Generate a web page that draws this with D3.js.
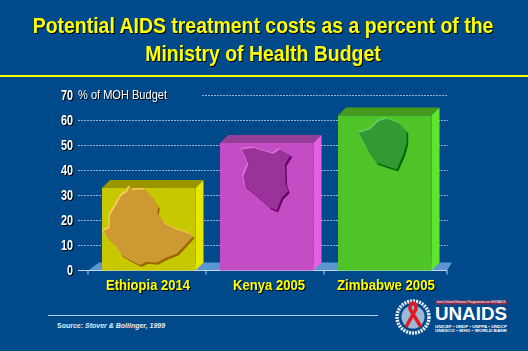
<!DOCTYPE html>
<html>
<head>
<meta charset="utf-8">
<script src="https://cdn.jsdelivr.net/npm/d3@7/dist/d3.min.js"></script>
<style>
  html, body { margin: 0; padding: 0; background: #004a8c; }
  svg { display: block; font-family: "Liberation Sans", Arial, sans-serif; }
  .shadow { filter: drop-shadow(1px 1px 0 #000); }
  .title { filter: drop-shadow(1.5px 1.5px 0 #000); }
  .axis path { display: none; }
  .axis line { display: none; }
</style>
</head>
<body>
<div id="chart"></div>
<script>
var categories = ["Ethiopia 2014", "Kenya 2005", "Zimbabwe 2005"];
var values = [33, 51, 62];
var yTicks = [0, 10, 20, 30, 40, 50, 60, 70];
var titleLines = ["Potential AIDS treatment costs as a percent of the", "Ministry of Health Budget"];

var frontColors = ["#c8c800", "#c44cc4", "#4ec428"];
var topColors = ["#9a9600", "#953e95", "#459a1c"];
var sideColors = ["#e6e600", "#e660e6", "#5ee62c"];
var mapColors = ["#cc9933", "#993399", "#339933"];
var mapLights = ["#ffcc66", "#dd77dd", "#66cc66"];
var mapDarks = ["#996600", "#660066", "#006600"];

var labelWidths = [84, 72, 98];
var labelShifts = [-0.75, 2.25, 1.25];

// country outlines, px from the top left corner of each bar front
var ethiopia = [[27.3,-1.3],[31.3,2],[43,1.3],[49.7,8.7],[56.3,18.7],[55.3,25.3],[62,35.3],[71.3,40.3],[86.3,45.3],[91.3,48],[84.7,55.3],[75.3,65.3],[63,70.3],[54.7,74.7],[44.7,73.7],[38,77],[28,72],[19.7,67],[13,57],[4.7,48.7],[1.3,42.7],[7.3,40.3],[8,27],[13,18.7],[19.7,7],[25.3,3.7]];
var kenya = [[21.7,6.3],[33.3,4.7],[46.7,8.7],[53.3,10.7],[60,6.3],[70.7,12],[65,21.3],[65.7,41.3],[68.3,48],[61.7,54.7],[56.7,67.3],[50,64.7],[46.7,61.3],[33.3,49.7],[25,43],[23.3,33],[28.3,21.3],[23.3,9.7]];
var zimbabwe = [[20.3,17.3],[32,14],[40.3,5.7],[48.7,3.3],[60.3,7.3],[68.7,15.7],[68.7,27.3],[65.3,39],[58.7,54],[48.7,50.7],[38.7,47.3],[32,39],[27,29]];
var outlines = [ethiopia, kenya, zimbabwe];

var width = 528, height = 351, depth = 8;

var svg = d3.select("#chart").append("svg")
  .attr("width", width)
  .attr("height", height);

var x = d3.scaleBand()
  .domain(categories)
  .range([88, 445.5])
  .paddingInner(0.2076)
  .paddingOuter(0.1186)
  .align(0.5);

var y = d3.scaleLinear()
  .domain([0, 70])
  .range([270.5, 95.5]);

// title
svg.selectAll(".title")
  .data(titleLines)
  .enter()
  .append("text")
  .attr("class", "title")
  .attr("transform", function(d, i) { return "translate(263," + (32.5 + i * 28.5) + ") scale(0.865,1)"; })
  .attr("text-anchor", "middle")
  .style("font-size", "22.5px")
  .style("font-weight", "bold")
  .style("fill", "#ffff00")
  .text(function(d) { return d; });

svg.append("line")
  .attr("x1", 0).attr("x2", width)
  .attr("y1", 76).attr("y2", 76)
  .style("stroke", "#ffff00")
  .style("stroke-width", 2);

// gridlines
svg.selectAll(".grid")
  .data(yTicks.slice(1))
  .enter()
  .append("line")
  .attr("class", "grid")
  .attr("x1", function(d) { return d === 70 ? 202 : 78; })
  .attr("x2", 448)
  .attr("y1", function(d) { return y(d); })
  .attr("y2", function(d) { return y(d); })
  .style("stroke", "#c4d6ea")
  .style("stroke-opacity", 0.75)
  .style("stroke-dasharray", "2,1");

// floor
svg.append("path")
  .attr("d", d3.line()([[88, y(0)], [99, y(0) - depth], [452, y(0) - depth], [447, y(0)]]) + "Z")
  .style("fill", "#5b96d2");

// x axis line and ticks
svg.append("line")
  .attr("x1", 78).attr("x2", 447)
  .attr("y1", y(0)).attr("y2", y(0))
  .style("stroke", "#c4d6ea");

svg.selectAll(".xtick")
  .data(categories.concat(["end"]))
  .enter()
  .append("line")
  .attr("class", "xtick")
  .attr("x1", function(d) { return d === "end" ? 447 : x(d) - 14; })
  .attr("x2", function(d) { return d === "end" ? 447 : x(d) - 14; })
  .attr("y1", y(0))
  .attr("y2", y(0) + 4)
  .style("stroke", "#c4d6ea");

// y axis
var yAxis = svg.append("g")
  .attr("class", "axis")
  .attr("transform", "translate(79,0)")
  .call(d3.axisLeft(y).tickValues(yTicks).tickSize(0).tickPadding(6));

yAxis.selectAll("text")
  .attr("class", "shadow")
  .attr("textLength", function(d) { return d === 0 ? 6 : 12; })
  .attr("lengthAdjust", "spacingAndGlyphs")
  .style("font-family", "'Liberation Sans', Arial, sans-serif")
  .style("font-size", "14px")
  .style("font-weight", "bold")
  .style("fill", "#ffffff");

svg.append("text")
  .attr("class", "shadow")
  .attr("x", 78)
  .attr("y", 99)
  .attr("textLength", 89)
  .attr("lengthAdjust", "spacingAndGlyphs")
  .style("font-size", "13px")
  .style("fill", "#ffffff")
  .text("% of MOH Budget");

// bars
var bars = svg.selectAll(".bar")
  .data(categories)
  .enter()
  .append("g")
  .attr("class", "bar")
  .attr("transform", function(d, i) { return "translate(" + x(d) + "," + y(values[i]) + ")"; });

bars.append("path")
  .attr("d", function(d, i) {
    var w = x.bandwidth();
    return d3.line()([[0, 0], [depth, -depth], [w + depth, -depth], [w, 0]]) + "Z";
  })
  .style("fill", function(d, i) { return topColors[i]; });

bars.append("path")
  .attr("d", function(d, i) {
    var w = x.bandwidth(), h = y(0) - y(values[i]);
    return d3.line()([[w, 0], [w + depth, -depth], [w + depth, h - depth], [w, h]]) + "Z";
  })
  .style("fill", function(d, i) { return sideColors[i]; });

bars.append("rect")
  .attr("width", x.bandwidth())
  .attr("height", function(d, i) { return y(0) - y(values[i]); })
  .style("fill", function(d, i) { return frontColors[i]; });

// country maps on the bars
var mapLine = d3.line();
[[1.5, 2, mapDarks], [-1.2, -1.2, mapLights], [0, 0, mapColors]].forEach(function(layer) {
  bars.append("path")
    .attr("d", function(d, i) { return mapLine(outlines[i]) + "Z"; })
    .attr("transform", "translate(" + layer[0] + "," + layer[1] + ")")
    .style("fill", function(d, i) { return layer[2][i]; });
});

// category labels
svg.selectAll(".cat")
  .data(categories)
  .enter()
  .append("text")
  .attr("class", "cat shadow")
  .attr("x", function(d, i) { return x(d) + x.bandwidth() / 2 + labelShifts[i]; })
  .attr("y", 290)
  .attr("text-anchor", "middle")
  .attr("textLength", function(d, i) { return labelWidths[i]; })
  .attr("lengthAdjust", "spacingAndGlyphs")
  .style("font-size", "15px")
  .style("font-weight", "bold")
  .style("fill", "#ffff00")
  .text(function(d) { return d; });

// source
svg.append("line")
  .attr("x1", 48).attr("x2", 378)
  .attr("y1", 315.5).attr("y2", 315.5)
  .style("stroke", "#b8cfe8");

var source = svg.append("text")
  .attr("x", 57)
  .attr("y", 328)
  .style("font-size", "7px")
  .style("font-weight", "bold")
  .style("fill", "#e4ecf5");
source.append("tspan").text("Source: ");
source.append("tspan").style("font-style", "italic").text("Stover & Bollinger, 1999");

// UNAIDS logo
var logo = svg.append("g").attr("transform", "translate(413,317)");
logo.append("circle").attr("r", 16).style("fill", "none")
  .style("stroke", "#e8eef5").style("stroke-width", 3.5).style("stroke-dasharray", "2,1");
logo.append("circle").attr("r", 11.5).style("fill", "#9db9d6");
logo.append("path")
  .attr("d", "M-7,10 L3,-8 Q3,-14 0,-14 Q-3,-14 -3,-8 L8,10")
  .style("fill", "none")
  .style("stroke", "#e01a22")
  .style("stroke-width", 3.5);

svg.append("rect")
  .attr("x", 435).attr("y", 300.5).attr("width", 72).attr("height", 4)
  .style("fill", "#8a2a4a");
svg.append("text")
  .attr("x", 471).attr("y", 303.2)
  .attr("text-anchor", "middle")
  .style("font-size", "3.4px")
  .style("fill", "#ffffff")
  .text("Joint United Nations Programme on HIV/AIDS");
svg.append("text")
  .attr("x", 471).attr("y", 320)
  .attr("text-anchor", "middle")
  .attr("textLength", 72)
  .attr("lengthAdjust", "spacingAndGlyphs")
  .style("font-size", "17.5px")
  .style("font-weight", "bold")
  .style("fill", "#ffffff")
  .text("UNAIDS");
["UNICEF • UNDP • UNFPA • UNDCP", "UNESCO • WHO • WORLD BANK"].forEach(function(t, i) {
  svg.append("text")
    .attr("x", 435).attr("y", 327.5 + i * 4.6)
    .attr("textLength", 72)
    .attr("lengthAdjust", "spacingAndGlyphs")
    .style("font-size", "4px")
    .style("font-weight", "bold")
    .style("fill", "#ffffff")
    .text(t);
});
</script>
</body>
</html>
